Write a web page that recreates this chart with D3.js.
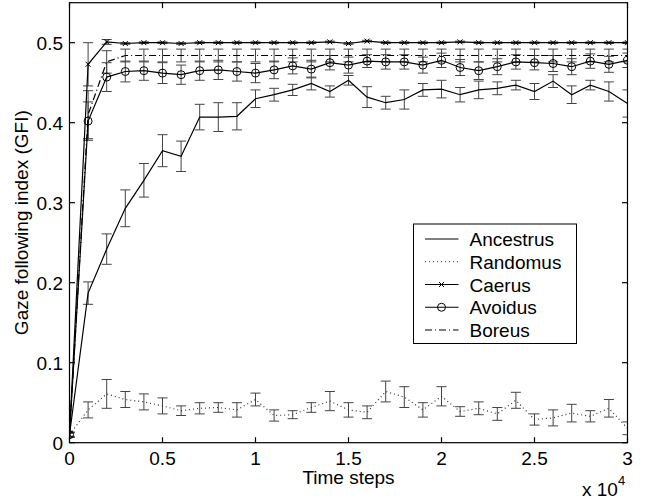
<!DOCTYPE html>
<html>
<head>
<meta charset="utf-8">
<script src="https://cdn.jsdelivr.net/npm/d3@7"></script>
<style>
  body { margin: 0; background: #fff; }
  svg { display: block; font-family: "Liberation Sans", Arial, sans-serif; }
</style>
</head>
<body>
<div class="chart"></div>
<script>
const WIDTH = 650;
const HEIGHT = 500;

const LEFT = 69.5, RIGHT = 627.5, TOP = 2.7, BOTTOM = 442.7;

// time steps (x 10^4 on axis)
var steps = [0, 1000, 2000, 3000, 4000, 5000, 6000, 7000, 8000, 9000,
    10000, 11000, 12000, 13000, 14000, 15000, 16000, 17000, 18000, 19000,
    20000, 21000, 22000, 23000, 24000, 25000, 26000, 27000, 28000, 29000, 30000];

var ancestrus = [0.010, 0.187, 0.242, 0.293, 0.328, 0.365, 0.358, 0.407, 0.407, 0.408,
    0.430, 0.435, 0.441, 0.449, 0.439, 0.453, 0.432, 0.425, 0.429, 0.441,
    0.442, 0.435, 0.441, 0.443, 0.447, 0.439, 0.452, 0.435, 0.447, 0.439, 0.424];
var ancestrusErr = [0.003, 0.014, 0.019, 0.023, 0.021, 0.020, 0.019, 0.016, 0.018, 0.017,
    0.011, 0.008, 0.007, 0.008, 0.007, 0.006, 0.013, 0.008, 0.012, 0.008,
    0.011, 0.009, 0.011, 0.008, 0.006, 0.010, 0.008, 0.011, 0.006, 0.012, 0.017];

var randomus = [0.010, 0.041, 0.061, 0.054, 0.051, 0.046, 0.040, 0.043, 0.044, 0.041,
    0.054, 0.034, 0.035, 0.044, 0.052, 0.041, 0.038, 0.064, 0.057, 0.041,
    0.058, 0.039, 0.043, 0.036, 0.053, 0.029, 0.031, 0.037, 0.033, 0.043, 0.018];
var randomusErr = [0.003, 0.010, 0.018, 0.010, 0.010, 0.010, 0.006, 0.007, 0.006, 0.009,
    0.008, 0.007, 0.005, 0.006, 0.012, 0.009, 0.008, 0.013, 0.013, 0.009,
    0.012, 0.006, 0.008, 0.008, 0.010, 0.007, 0.010, 0.011, 0.007, 0.011, 0.008];

var caerus = [0.010, 0.473, 0.501, 0.499, 0.500, 0.500, 0.499, 0.500, 0.500, 0.500,
    0.500, 0.500, 0.500, 0.500, 0.501, 0.499, 0.502, 0.500, 0.500, 0.500,
    0.500, 0.501, 0.500, 0.500, 0.500, 0.500, 0.500, 0.500, 0.500, 0.500, 0.500];
var caerusErr = [0.002, 0.027, 0.003, 0.001, 0.001, 0.001, 0.001, 0.001, 0.001, 0.001,
    0.001, 0.001, 0.001, 0.001, 0.001, 0.001, 0.001, 0.001, 0.001, 0.001,
    0.001, 0.001, 0.001, 0.001, 0.001, 0.001, 0.001, 0.001, 0.001, 0.001, 0.001];

var avoidus = [0.010, 0.402, 0.457, 0.464, 0.465, 0.462, 0.460, 0.465, 0.466, 0.464,
    0.462, 0.466, 0.471, 0.467, 0.475, 0.472, 0.477, 0.476, 0.476, 0.472,
    0.478, 0.469, 0.465, 0.470, 0.476, 0.475, 0.474, 0.470, 0.477, 0.473, 0.478];
var avoidusErr = [0.003, 0.024, 0.018, 0.013, 0.012, 0.013, 0.012, 0.012, 0.012, 0.012,
    0.012, 0.011, 0.010, 0.011, 0.009, 0.010, 0.008, 0.009, 0.009, 0.010,
    0.009, 0.010, 0.011, 0.010, 0.009, 0.009, 0.010, 0.010, 0.009, 0.010, 0.009];

var boreus = [0.010, 0.410, 0.476, 0.484, 0.484, 0.484, 0.484, 0.484, 0.484, 0.484,
    0.484, 0.484, 0.484, 0.484, 0.484, 0.484, 0.484, 0.484, 0.484, 0.484,
    0.484, 0.484, 0.484, 0.484, 0.484, 0.484, 0.484, 0.484, 0.484, 0.484, 0.484];
var boreusErr = [0.003, 0.030, 0.014, 0.008, 0.008, 0.008, 0.008, 0.008, 0.008, 0.008,
    0.008, 0.008, 0.008, 0.008, 0.008, 0.008, 0.008, 0.008, 0.008, 0.008,
    0.008, 0.008, 0.008, 0.008, 0.008, 0.008, 0.008, 0.008, 0.008, 0.008, 0.008];

var xTicks = [0, 5000, 10000, 15000, 20000, 25000, 30000];
var xTickLabels = ["0", "0.5", "1", "1.5", "2", "2.5", "3"];
var yTicks = [0, 0.1, 0.2, 0.3, 0.4, 0.5];
var yTickLabels = ["0", "0.1", "0.2", "0.3", "0.4", "0.5"];

var series = [
    { name: "Ancestrus", values: ancestrus, err: ancestrusErr, dash: null, marker: null },
    { name: "Randomus", values: randomus, err: randomusErr, dash: "1,3", marker: null },
    { name: "Caerus", values: caerus, err: caerusErr, dash: null, marker: "x" },
    { name: "Avoidus", values: avoidus, err: avoidusErr, dash: null, marker: "o" },
    { name: "Boreus", values: boreus, err: boreusErr, dash: "7,3,1,3", marker: null }
];

var svg = d3.select('.chart').append('svg')
    .attr('width', WIDTH)
    .attr('height', HEIGHT);

var x = d3.scaleLinear().domain([0, 30000]).range([LEFT, RIGHT]);
var y = d3.scaleLinear().domain([0, 0.55]).range([BOTTOM, TOP]);

svg.append('defs').append('clipPath').attr('id', 'clip')
    .append('rect')
    .attr('x', LEFT).attr('y', TOP)
    .attr('width', RIGHT - LEFT).attr('height', BOTTOM - TOP);

var plot = svg.append('g').attr('clip-path', 'url(#clip)');

// error bars
series.forEach(function (s) {
    var g = plot.append('g').attr('stroke', '#444').attr('stroke-width', 1).attr('fill', 'none');
    s.values.forEach(function (v, i) {
        var cx = x(steps[i]);
        var lo = y(v - s.err[i]), hi = y(v + s.err[i]);
        g.append('line').attr('x1', cx).attr('x2', cx).attr('y1', lo).attr('y2', hi);
        g.append('line').attr('x1', cx - 5).attr('x2', cx + 5).attr('y1', lo).attr('y2', lo);
        g.append('line').attr('x1', cx - 5).attr('x2', cx + 5).attr('y1', hi).attr('y2', hi);
    });
});

var line = d3.line()
    .x(function (d, i) { return x(steps[i]); })
    .y(function (d) { return y(d); });

var drawMarker = function (g, type, cx, cy) {
    if (type === "x") {
        g.append('path')
            .attr('d', "M" + (cx - 2.5) + "," + (cy - 2.5) + "L" + (cx + 2.5) + "," + (cy + 2.5) +
                "M" + (cx - 2.5) + "," + (cy + 2.5) + "L" + (cx + 2.5) + "," + (cy - 2.5))
            .attr('stroke', '#000').attr('stroke-width', 1);
    } else if (type === "o") {
        g.append('circle').attr('cx', cx).attr('cy', cy).attr('r', 4)
            .attr('fill', 'none').attr('stroke', '#000').attr('stroke-width', 1);
    }
};

series.forEach(function (s) {
    plot.append('path')
        .attr('d', line(s.values))
        .attr('fill', 'none')
        .attr('stroke', s.dash === "1,3" ? '#333' : '#000')
        .attr('stroke-width', 1.2)
        .attr('stroke-dasharray', s.dash);
    if (s.marker) {
        var g = plot.append('g');
        s.values.forEach(function (v, i) { drawMarker(g, s.marker, x(steps[i]), y(v)); });
    }
});

// frame and inward ticks on all sides
var axisG = svg.append('g').attr('stroke', '#000').attr('stroke-width', 1.2);
axisG.append('rect')
    .attr('x', LEFT).attr('y', TOP)
    .attr('width', RIGHT - LEFT).attr('height', BOTTOM - TOP)
    .attr('fill', 'none');

var TICK = 5.5;
xTicks.forEach(function (t) {
    axisG.append('line').attr('x1', x(t)).attr('x2', x(t)).attr('y1', BOTTOM).attr('y2', BOTTOM - TICK);
    axisG.append('line').attr('x1', x(t)).attr('x2', x(t)).attr('y1', TOP).attr('y2', TOP + TICK);
});
yTicks.forEach(function (t) {
    axisG.append('line').attr('x1', LEFT).attr('x2', LEFT + TICK).attr('y1', y(t)).attr('y2', y(t));
    axisG.append('line').attr('x1', RIGHT).attr('x2', RIGHT - TICK).attr('y1', y(t)).attr('y2', y(t));
});

var FONT = 19;
svg.append('g').selectAll('text').data(xTicks).enter().append('text')
    .attr('x', function (d) { return x(d); })
    .attr('y', 465)
    .attr('text-anchor', 'middle')
    .attr('font-size', FONT)
    .text(function (d, i) { return xTickLabels[i]; });

svg.append('g').selectAll('text').data(yTicks).enter().append('text')
    .attr('x', 63)
    .attr('y', function (d) { return y(d) + 7; })
    .attr('text-anchor', 'end')
    .attr('font-size', FONT)
    .text(function (d, i) { return yTickLabels[i]; });

svg.append('text')
    .attr('x', (LEFT + RIGHT) / 2)
    .attr('y', 484)
    .attr('text-anchor', 'middle')
    .attr('font-size', FONT)
    .text("Time steps");

svg.append('text')
    .attr('transform', "translate(27.5," + ((TOP + BOTTOM) / 2) + ") rotate(-90)")
    .attr('text-anchor', 'middle')
    .attr('font-size', FONT)
    .text("Gaze following index (GFI)");

var mult = svg.append('text')
    .attr('x', 582)
    .attr('y', 495.5)
    .attr('font-size', FONT);
mult.append('tspan').text("x 10");
mult.append('tspan').attr('font-size', 13).attr('dy', -11).text("4");

// legend
var legend = svg.append('g');
legend.append('rect')
    .attr('x', 413.5).attr('y', 224)
    .attr('width', 163).attr('height', 119.5)
    .attr('fill', '#fff').attr('stroke', '#000').attr('stroke-width', 1);

series.forEach(function (s, i) {
    var ly = 239 + i * 22.75;
    legend.append('line')
        .attr('x1', 425).attr('x2', 458.5).attr('y1', ly).attr('y2', ly)
        .attr('stroke', s.dash === "1,3" ? '#333' : '#000')
        .attr('stroke-width', 1.2)
        .attr('stroke-dasharray', s.dash);
    if (s.marker) drawMarker(legend, s.marker, 441.5, ly);
    legend.append('text')
        .attr('x', 469.5).attr('y', ly + 7)
        .attr('font-size', FONT)
        .text(s.name);
});
</script>
</body>
</html>
